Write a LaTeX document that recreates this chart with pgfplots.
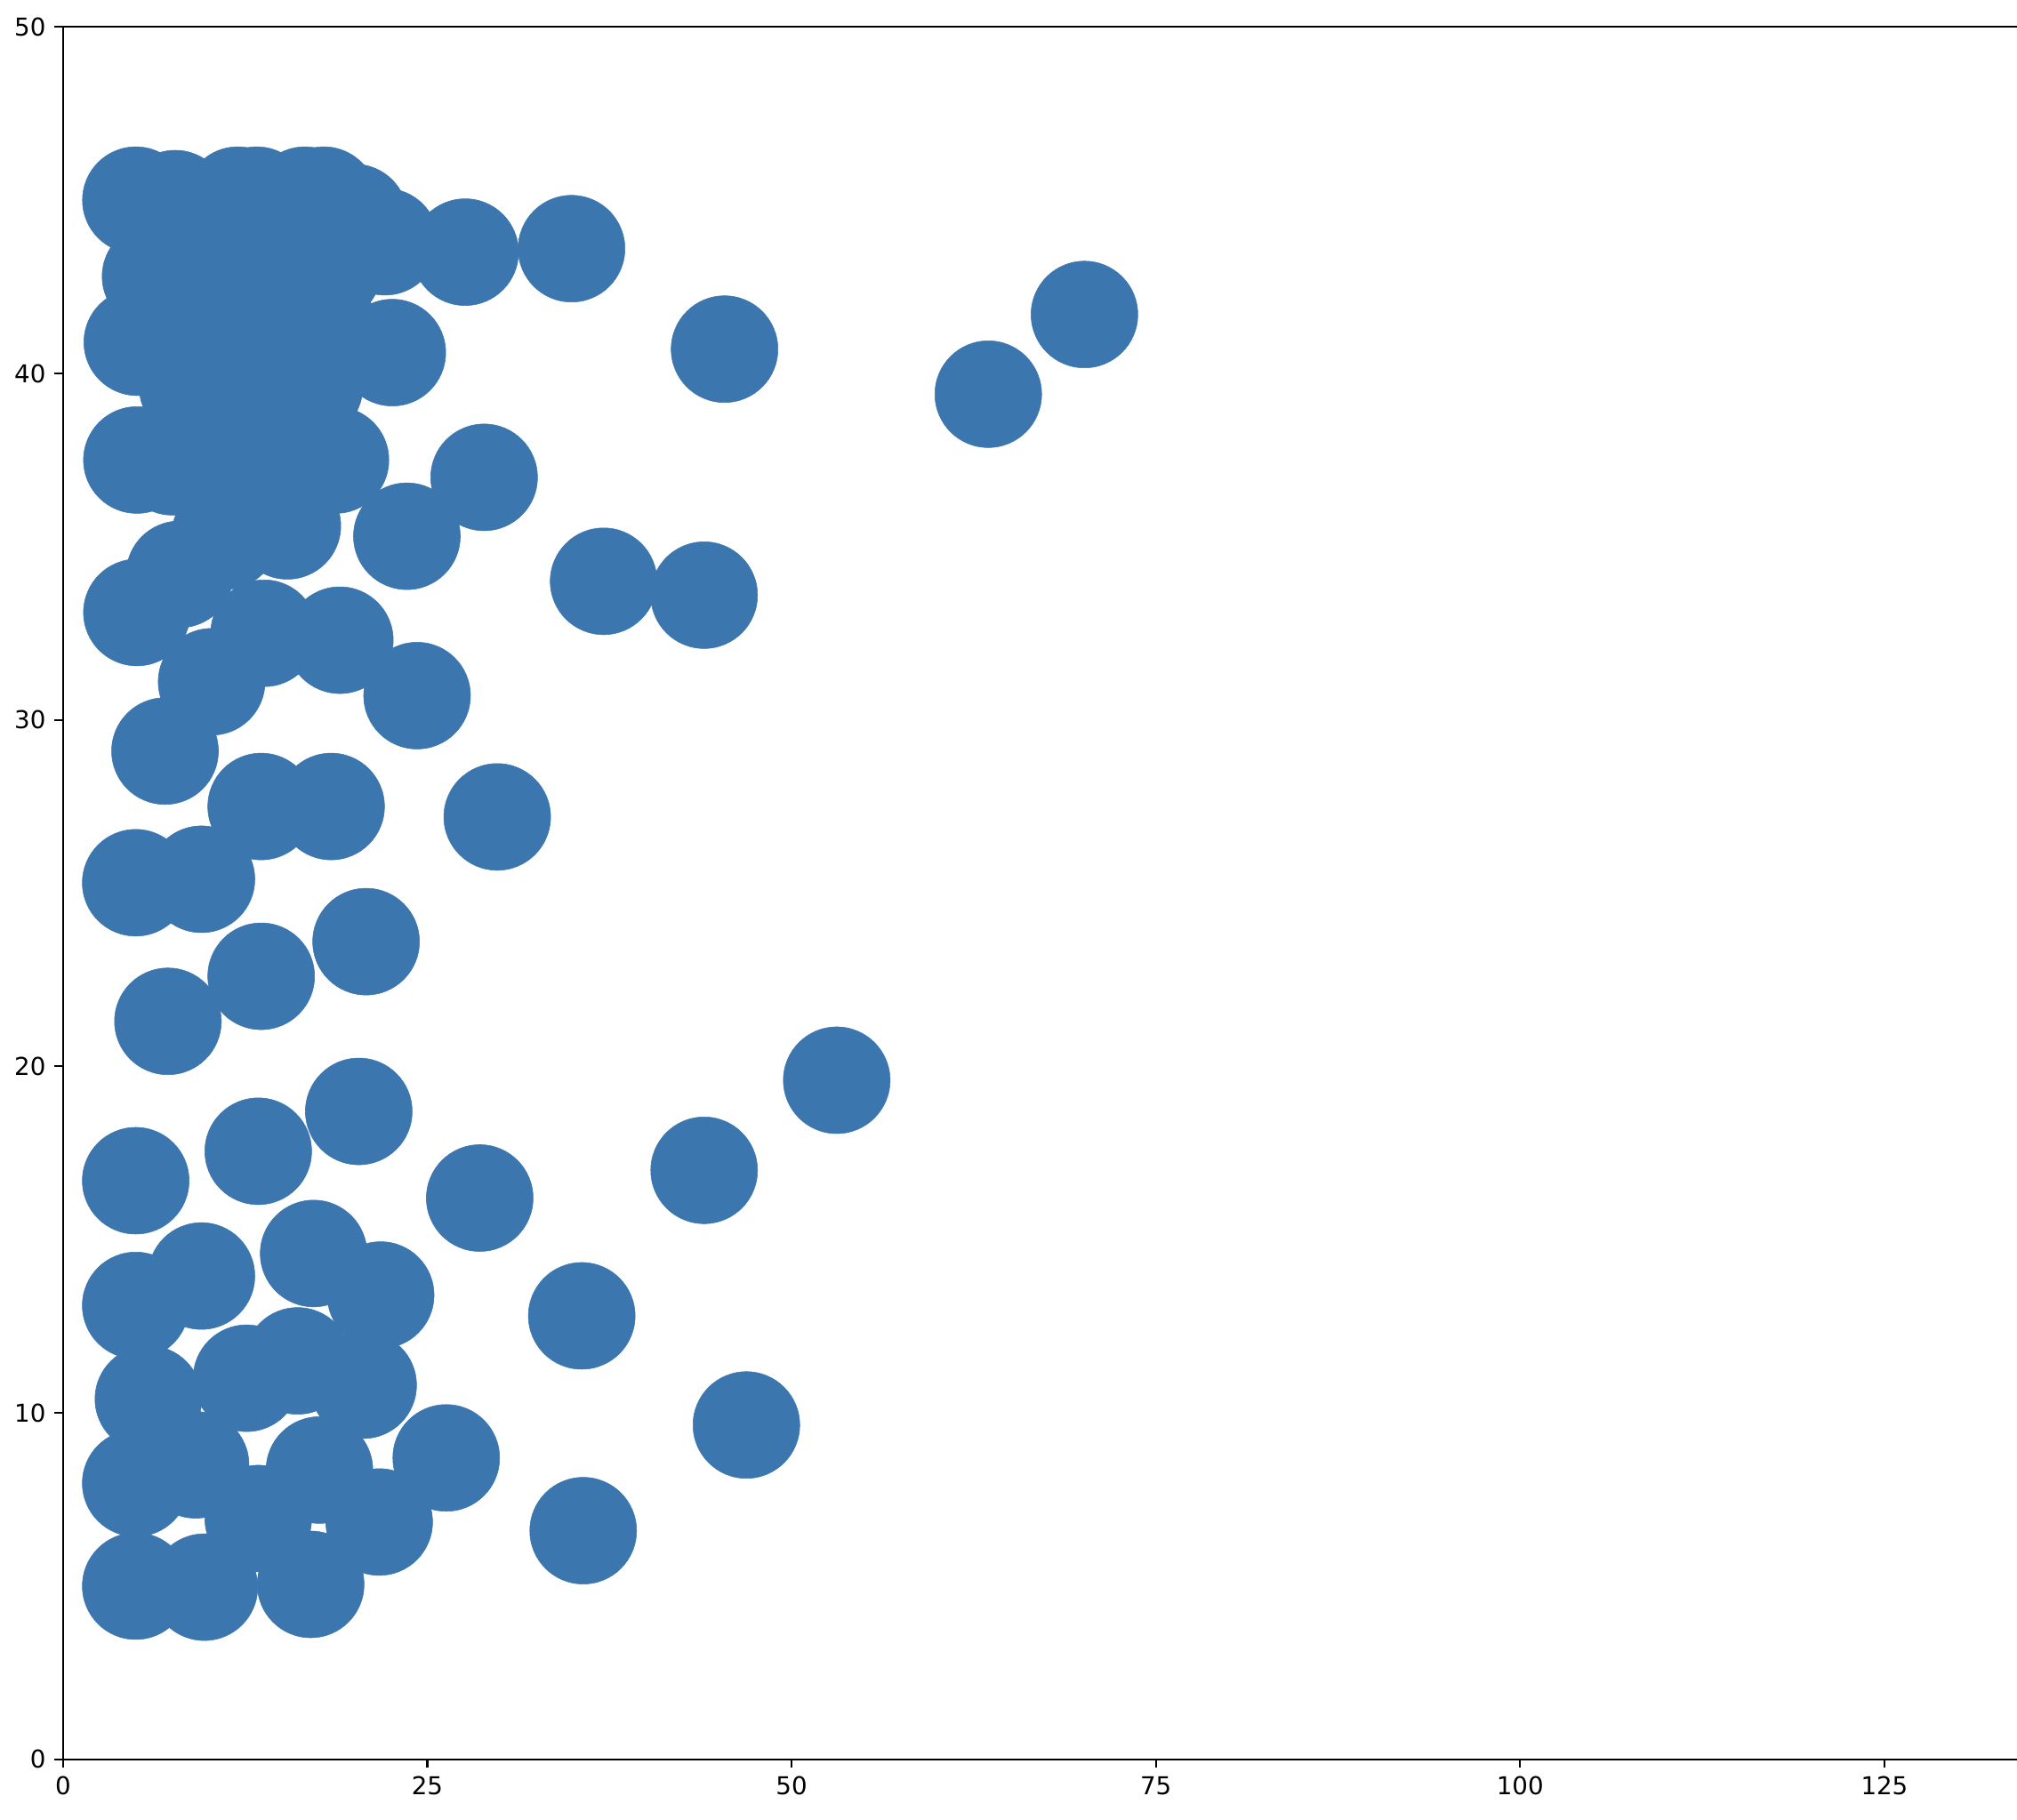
\documentclass[border=0pt]{standalone}
\usepackage{fontspec}
\setmainfont{DejaVu Sans}
\usepackage{pgfplots}
\pgfplotsset{compat=1.18}
\definecolor{dotblue}{RGB}{60,118,175}

\begin{document}
\fontsize{10pt}{12pt}\selectfont
\begin{tikzpicture}
\begin{axis}[
    scale only axis,
    width=790.9bp,
    height=701.4bp,
    xmin=0, xmax=134.1,
    ymin=0, ymax=50,
    axis lines=left,
    axis line style={-, line width=0.8pt, black},
    xtick={0,25,50,75,100,125},
    ytick={0,10,20,30,40,50},
    tick align=outside,
    major tick length=3.5pt,
    tick style={line width=0.8pt, black},
    minor tick num=0,
    /pgf/number format/assume math mode=true,
    tick label style={font=\fontsize{10pt}{12pt}\selectfont},
    clip=false,
]
% hidden middle of the dense top-left group first
\addplot[color=dotblue, only marks, mark=*, mark size=21.6bp,
    mark options={fill=dotblue, draw=dotblue, line width=0.2pt}]
coordinates {
    (9.8,43.35) (14.2,43.35) (18.2,43.0)
    (9.8,41.5) (14.2,41.5) (17.7,41.5)
    (8.9,39.6) (12.9,39.6) (16.9,39.6)
    (10.7,38.2) (14.7,38.2) (11.6,37.5) (15.3,37.5)
    (5.0,45.0) (7.7,44.9) (12.0,45.0) (13.3,45.0) (16.6,45.0) (17.9,45.0)
    (20.0,44.5) (22.1,43.8) (27.6,43.5) (34.9,43.6)
    (6.35,42.8) (5.1,40.9) (22.6,40.6)
    (5.07,37.5) (7.5,37.45) (18.7,37.5)
    (28.9,37.0) (15.4,35.6) (23.6,35.3) (11.1,35.3) (8.0,34.2) (5.07,33.1)
    (37.1,34.0) (44.0,33.6)
    (45.4,40.7) (63.5,39.4) (70.1,41.7)
    (13.8,32.5) (19.0,32.3) (24.3,30.7) (10.2,31.1) (7.0,29.1)
    (13.6,27.5) (18.4,27.5) (29.8,27.2) (4.99,25.3) (9.5,25.4)
    (20.8,23.6) (13.6,22.6) (7.2,21.3)
    (53.1,19.6) (20.3,18.7) (13.4,17.55) (4.99,16.7) (44.0,17.0) (28.6,16.2)
    (17.2,14.6) (21.8,13.4) (9.5,13.95) (4.99,13.1) (35.6,12.8)
    (16.1,11.5) (12.6,11.0) (20.6,10.8) (5.86,10.4) (46.9,9.65)
    (26.3,8.7) (9.1,8.5) (4.99,7.97) (17.6,8.35) (13.4,6.95) (21.7,6.85) (35.7,6.6)
    (4.99,5.0) (9.7,4.97) (17.0,5.05)
};
\draw[line width=0.8pt, black] (rel axis cs:0,1) -- (rel axis cs:1,1);
\end{axis}
\pgfresetboundingbox
\useasboundingbox (-25.5bp,-24.2bp) rectangle (790.9bp,712.3bp);
\end{tikzpicture}
\end{document}
